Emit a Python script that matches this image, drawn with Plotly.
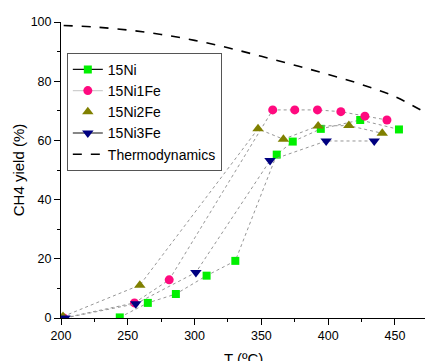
import plotly.graph_objects as go

# Measured CH4 yield (%) against reaction temperature (ºC), in measurement order
ni_T = [244, 265, 286, 309, 330.5, 361.5, 373.5, 394.5, 424, 453]
ni_Y = [0.2, 5.1, 8.1, 14.3, 19.3, 55.2, 59.6, 63.9, 66.9, 63.7]

ni1fe_T = [202, 255, 281, 358.5, 375, 392, 409.5, 427.5, 444]
ni1fe_Y = [0.0, 5.1, 12.9, 70.3, 70.3, 70.3, 69.7, 68.2, 66.9]

ni2fe_T = [201.5, 259, 347.5, 366.5, 392.5, 415.5, 440.5]
ni2fe_Y = [0.5, 11.1, 63.9, 60.4, 64.9, 65.0, 62.4]

ni3fe_T = [203, 256, 301, 356.5, 398.5, 434.5]
ni3fe_Y = [0.0, 4.8, 15.4, 53.2, 59.8, 59.8]

# Thermodynamic equilibrium yield
thermo_T = [202, 225, 250, 275, 300, 325, 350, 375, 400, 425, 450, 475]
thermo_Y = [98.8, 98.3, 97.3, 95.8, 93.8, 91.3, 88.4, 85.4, 82.3, 78.9, 74.8, 68.8]

FONT = "Liberation Sans, Arial, sans-serif"

series = [
    ("15Ni", ni_T, ni_Y, "square", "#00f000", 8, "#111111", True),
    ("15Ni1Fe", ni1fe_T, ni1fe_Y, "circle", "#ff0a7f", 9, "#cfcfcf", True),
    ("15Ni2Fe", ni2fe_T, ni2fe_Y, "triangle-up", "#808000", 10, None, False),
    ("15Ni3Fe", ni3fe_T, ni3fe_Y, "triangle-down", "#000080", 10, "#111111", True),
]

fig = go.Figure()

for name, xs, ys, sym, col, size, lcol, has_line in series:
    # connecting lines between the measurements (thin dotted)
    fig.add_trace(go.Scatter(
        x=xs, y=ys, mode="lines+markers", showlegend=False,
        line=dict(color="#8a8a8a", width=0.9, dash="dot"),
        marker=dict(symbol=sym, color=col, size=size, line=dict(width=0)),
    ))
    # legend entry
    fig.add_trace(go.Scatter(
        x=[None], y=[None], name=name,
        mode="lines+markers" if has_line else "markers",
        line=dict(color=lcol or "#000", width=1.2),
        marker=dict(symbol=sym, color=col, size=size, line=dict(width=0)),
    ))

fig.add_trace(go.Scatter(
    x=thermo_T, y=thermo_Y, name="Thermodynamics", mode="lines",
    line=dict(color="#000000", width=1.6, dash="dash", shape="spline"),
))

axis_common = dict(
    showline=True, linecolor="#000", linewidth=1,
    ticks="outside", ticklen=6, tickwidth=1, tickcolor="#000",
    showgrid=False, zeroline=False, mirror=False,
    tickfont=dict(family=FONT, size=12.5, color="#000"),
)

fig.update_xaxes(
    range=[200, 472.5], tickvals=[200, 250, 300, 350, 400, 450],
    minor=dict(ticks="outside", ticklen=3, tickwidth=1, tickcolor="#000",
               tickvals=[225, 275, 325, 375, 425], showgrid=False),
    **axis_common,
)
fig.update_yaxes(
    range=[0, 100], tickvals=[0, 20, 40, 60, 80, 100],
    minor=dict(ticks="outside", ticklen=3, tickwidth=1, tickcolor="#000",
               tickvals=[10, 30, 50, 70, 90], showgrid=False),
    title=dict(text="CH4 yield (%)", font=dict(family=FONT, size=15, color="#000"),
               standoff=2),
    **axis_common,
)

fig.add_annotation(
    text="T (ºC)", xref="paper", yref="paper", x=0.5, y=-0.1,
    xanchor="center", yanchor="top", showarrow=False,
    font=dict(family=FONT, size=15, color="#000"),
)

fig.update_layout(
    width=425, height=361,
    margin=dict(l=61, r=0, t=22, b=43),
    paper_bgcolor="white", plot_bgcolor="white",
    font=dict(family=FONT, color="#000"),
    legend=dict(
        x=0.016, y=0.896, xanchor="left", yanchor="top",
        bgcolor="white", bordercolor="#555", borderwidth=1,
        font=dict(family=FONT, size=14, color="#000"),
        tracegroupgap=0, itemwidth=30,
    ),
    showlegend=True,
)

fig.write_html("out.html")
